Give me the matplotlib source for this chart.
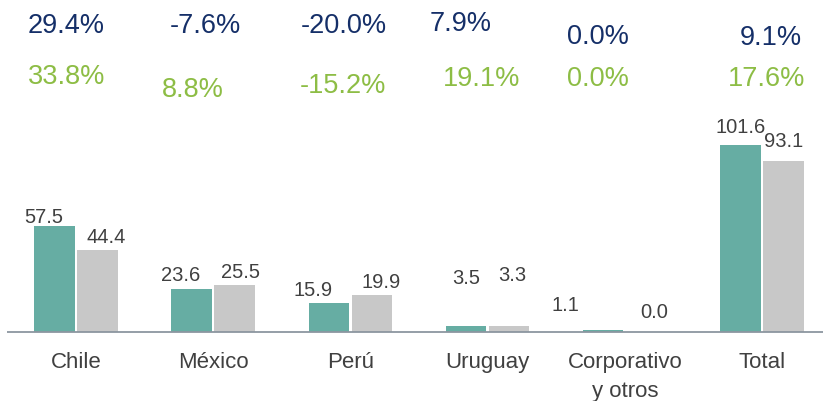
#!/usr/bin/env python

"""
Grouped bars per country (two periods) with growth rates written above.
"""

import numpy as np
import matplotlib
matplotlib.use("Agg")
import matplotlib.pyplot as plt

# data
categories = ["Chile", "México", "Perú", "Uruguay", "Corporativo\ny otros", "Total"]
current = [57.5, 23.6, 15.9, 3.5, 1.1, 101.6]
previous = [44.4, 25.5, 19.9, 3.3, 0.0, 93.1]
growth_top = ["29.4%", "-7.6%", "-20.0%", "7.9%", "0.0%", "9.1%"]
growth_bottom = ["33.8%", "8.8%", "-15.2%", "19.1%", "0.0%", "17.6%"]

# label placement (pixels), copied by eye from the slide
cur_lbl_dx = [-11, -11, -16, 0, -38, 0]
cur_lbl_dy = [9, 13, 12, 47, 25, 17]
prev_lbl_dx = [9, 6, 9, 3, 8, 0]
prev_lbl_dy = [13, 13, 13, 50, 20, 19]
top_dx = [-10, -8, -7, -27, -27, 9]
top_y = [26, 26, 26, 24, 37, 38]
bot_dx = [-9, -20, -7, -6, -27, 5]
bot_y = [77, 90, 86, 79, 79, 79]

TEAL = "#66ADA3"
GREY = "#C8C8C8"
NAVY = "#152F68"
GREEN = "#8DBD45"
TXT = "#404040"

plt.rcParams["font.family"] = ["Liberation Sans", "DejaVu Sans"]

fig = plt.figure(figsize=(8.23, 4.01), dpi=100)
ax = fig.add_axes([7 / 823, 0, 816 / 823, 1])

x = np.arange(len(categories))
w = 0.295
off = 0.157
b1 = ax.bar(x - off, current, w, color=TEAL)
b2 = ax.bar(x + off, previous, w, color=GREY)

ax.set_xlim(-0.503, 5.445)
ax.set_ylim(-37.4, 180.2)
ax.axis("off")
ax.axhline(0, color="#8C96A0", lw=1.3, zorder=3)

for i in range(len(categories)):
    ax.annotate(f"{current[i]:.1f}", xy=(x[i] - off, current[i]),
                xytext=(cur_lbl_dx[i], cur_lbl_dy[i]), textcoords="offset pixels",
                ha="center", va="center", fontsize=14.5, color=TXT)
    ax.annotate(f"{previous[i]:.1f}", xy=(x[i] + off, previous[i]),
                xytext=(prev_lbl_dx[i], prev_lbl_dy[i]), textcoords="offset pixels",
                ha="center", va="center", fontsize=14.5, color=TXT)
    # category name under the baseline
    ax.annotate(categories[i], xy=(x[i], 0), xytext=(0, -20),
                textcoords="offset pixels", ha="center", va="top",
                fontsize=16, color=TXT, linespacing=1.5)
    # growth rates at the top
    ax.annotate(growth_top[i], xy=(x[i], 1), xycoords=("data", "axes fraction"),
                xytext=(top_dx[i], -top_y[i]), textcoords="offset pixels",
                ha="center", va="center", fontsize=19.5, color=NAVY)
    ax.annotate(growth_bottom[i], xy=(x[i], 1), xycoords=("data", "axes fraction"),
                xytext=(bot_dx[i], -bot_y[i]), textcoords="offset pixels",
                ha="center", va="center", fontsize=19.5, color=GREEN)

fig.savefig("out.png", dpi=100)
